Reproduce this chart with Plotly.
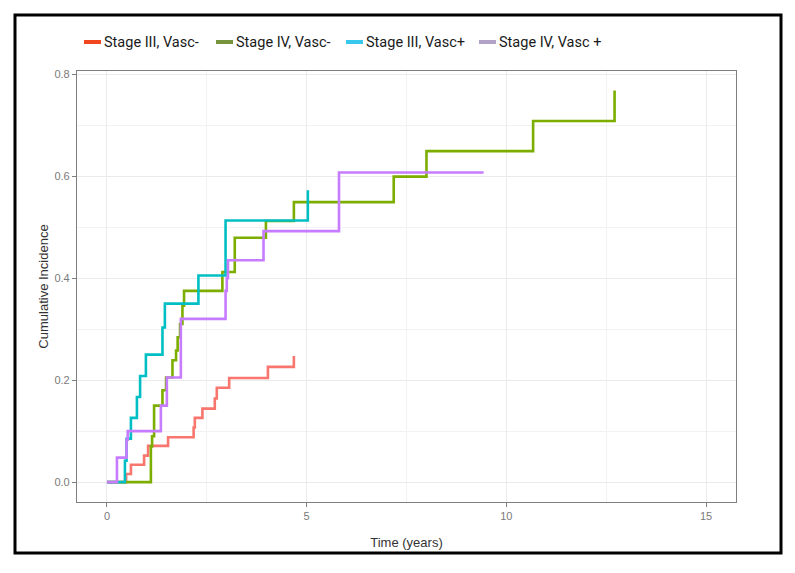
import plotly.graph_objects as go

# cumulative incidence step data
t_s3_neg = [0, 0.48, 0.6, 0.93, 1.03, 1.53, 2.17, 2.2, 2.39, 2.7, 2.75, 3.06, 4.03, 4.68]
ci_s3_neg = [0, 0.016, 0.034, 0.052, 0.071, 0.088, 0.107, 0.126, 0.144, 0.164, 0.185, 0.204, 0.226, 0.247]

t_s4_neg = [0, 1.1, 1.13, 1.18, 1.39, 1.48, 1.64, 1.73, 1.77, 1.83, 1.89, 1.93,
            2.89, 3.2, 3.98, 4.68, 7.18, 8.0, 10.67, 12.71]
ci_s4_neg = [0, 0.07, 0.09, 0.15, 0.18, 0.205, 0.239, 0.258, 0.284, 0.31, 0.346, 0.375,
             0.412, 0.479, 0.512, 0.549, 0.599, 0.649, 0.708, 0.768]

t_s3_pos = [0, 0.45, 0.49, 0.6, 0.75, 0.83, 0.975, 1.39, 1.45, 2.29, 2.97, 5.03]
ci_s3_pos = [0, 0.042, 0.085, 0.126, 0.167, 0.208, 0.25, 0.303, 0.35, 0.405, 0.513, 0.572]

t_s4_pos = [0, 0.25, 0.49, 0.52, 1.35, 1.5, 1.85, 2.97, 3.0, 3.03, 3.92, 5.81, 9.43]
ci_s4_pos = [0, 0.048, 0.083, 0.1, 0.15, 0.205, 0.32, 0.375, 0.4, 0.435, 0.492, 0.607, 0.607]

names = ["Stage III, Vasc-", "Stage IV, Vasc-", "Stage III, Vasc+", "Stage IV, Vasc +"]
line_colors = ["#F8766D", "#7CAE00", "#00BFC4", "#C77CFF"]
legend_colors = ["#F2461E", "#77933C", "#38C8EE", "#B3A2C7"]

x_ticks = [0, 5, 10, 15]
y_ticks = [0.0, 0.2, 0.4, 0.6, 0.8]

# page body has an 8px margin, so the figure is a bit smaller and shifted
OFF = 8
W, H = 795 - OFF, 573 - OFF
L, R, T, B = 77 - OFF, 59, 71 - OFF, 71
PW, PH = W - L - R, H - T - B


def px_x(p):
    return (p - OFF - L) / PW


def px_y(p):
    return (H - B - (p - OFF)) / PH


fig = go.Figure()
series = [(t_s3_neg, ci_s3_neg), (t_s4_neg, ci_s4_neg), (t_s3_pos, ci_s3_pos), (t_s4_pos, ci_s4_pos)]
for (t, ci), name, col in zip(series, names, line_colors):
    fig.add_trace(go.Scatter(
        x=t, y=ci, mode="lines", name=name,
        line=dict(color=col, width=2.6, shape="hv"),
        showlegend=False,
    ))

# legend drawn like the overlay in the original
leg_x = [84, 216, 346, 479]
leg_y = px_y(42)
for x0, name, col in zip(leg_x, names, legend_colors):
    fig.add_shape(type="line", xref="paper", yref="paper",
                  x0=px_x(x0), x1=px_x(x0 + 17), y0=leg_y, y1=leg_y,
                  line=dict(color=col, width=4))
    fig.add_annotation(text=name, xref="paper", yref="paper",
                       x=px_x(x0 + 18), y=leg_y, xanchor="left", yanchor="middle",
                       showarrow=False,
                       font=dict(family="Roboto, sans-serif", size=14.5, color="#1a1a1a"))

# outer black frame
fig.add_shape(type="rect", xref="paper", yref="paper",
              x0=px_x(15), x1=px_x(781), y0=px_y(553), y1=px_y(15),
              line=dict(color="black", width=3))

axis_common = dict(
    showgrid=True, gridcolor="#EBEBEB", gridwidth=1,
    zeroline=False, showline=True, linecolor="#7F7F7F", linewidth=1.2, mirror=True,
    ticks="outside", ticklen=4, tickcolor="#7F7F7F",
    tickfont=dict(family="Liberation Sans, Arial, sans-serif", size=11, color="#7A7A7A"),
)

fig.update_xaxes(
    range=[-0.75, 15.75], tickvals=x_ticks, ticktext=[str(v) for v in x_ticks],
    minor=dict(dtick=2.5, tick0=0, showgrid=True, gridcolor="#F2F2F2", ticks=""),
    title=dict(text="Time (years)", standoff=16,
               font=dict(family="Liberation Sans, Arial, sans-serif", size=13, color="#333333")),
    **axis_common,
)
fig.update_yaxes(
    range=[-0.039, 0.806], tickvals=y_ticks, ticktext=[f"{v:.1f}" for v in y_ticks],
    minor=dict(dtick=0.1, tick0=0, showgrid=True, gridcolor="#F2F2F2", ticks=""),
    title=dict(text="Cumulative Incidence", standoff=2,
               font=dict(family="Liberation Sans, Arial, sans-serif", size=13, color="#333333")),
    **axis_common,
)

fig.update_layout(
    width=W, height=H,
    margin=dict(l=L, r=R, t=T, b=B),
    paper_bgcolor="white", plot_bgcolor="white",
    showlegend=False,
)

fig.write_html("out.html")
